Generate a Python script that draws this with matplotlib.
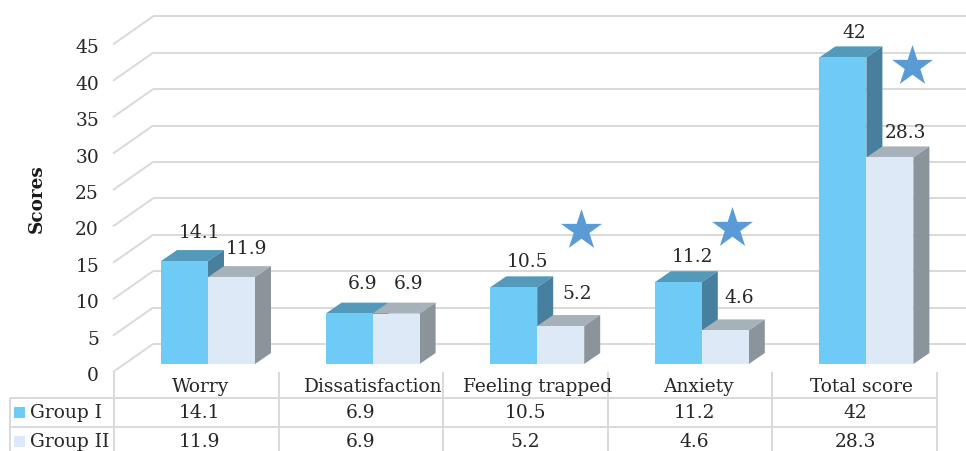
import matplotlib
matplotlib.use("Agg")
import matplotlib.pyplot as plt
from matplotlib.patches import Polygon, Rectangle
from matplotlib.transforms import Affine2D

categories = ["Worry", "Dissatisfaction", "Feeling trapped", "Anxiety", "Total score"]
group1 = [14.1, 6.9, 10.5, 11.2, 42]
group2 = [11.9, 6.9, 5.2, 4.6, 28.3]
series_names = ["Group I", "Group II"]
y_ticks = [0, 5, 10, 15, 20, 25, 30, 35, 40, 45]
# significant categories get a star, position
star_x = [2.837, 3.755, 4.848]
star_y = [18.4, 18.6, 40.8]

W, H = 966, 451
X0, CAT_W = 114.0, 164.6   # left edge of first category, width of one category (px)
Y0, UNIT = 364.0, 7.3      # bar base (px), px per score unit
BAR_W, DX, DY = 47.0, 16.0, 11.0

plt.rcParams["font.family"] = ["DejaVu Serif"]
TXT = "#262626"
GRID = "#d9d9d9"
FS = 13.4

fig = plt.figure(figsize=(W / 100, H / 100), dpi=100)
ax = fig.add_axes([0, 0, 1, 1])
ax.set_xlim(-X0 / CAT_W, (W - X0) / CAT_W)
ax.set_ylim((Y0 - H) / UNIT, Y0 / UNIT)
ax.axis("off")

# pixel coordinates for the chart furniture, y pointing down
px = Affine2D().scale(1, -1).translate(0, H)
dx = DX / CAT_W
dy = DY / UNIT
bw = BAR_W / CAT_W


def gridline(xs, ys, z=1):
    ax.plot(xs, ys, color=GRID, lw=1.4, transform=px, zorder=z, solid_capstyle="butt", clip_on=False)


# walls
for t in y_ticks:
    front = 372 - t * UNIT * 0.9973
    back = 344 - t * UNIT * 0.9973
    gridline([113, 153], [front, back])
    gridline([153, W], [back, back])
    ax.text(99, front + 4, str(t), ha="right", va="center", fontsize=FS, color=TXT, transform=px)

ax.text(37, 199, "Scores", rotation=90, ha="center", va="center", fontsize=13.2,
        fontweight="bold", color="#1a1a1a", transform=px)


def draw_bars(vals, offset, front_c, top_c, side_c, z):
    xs = [i + 47 / CAT_W + offset for i in range(len(vals))]
    ax.bar(xs, vals, width=bw, align="edge", color=front_c, zorder=z + 2)
    for x, v in zip(xs, vals):
        ax.add_patch(Polygon([(x, v), (x + dx, v + dy), (x + bw + dx, v + dy), (x + bw, v)],
                             closed=True, color=top_c, lw=0, zorder=z + 1))
        ax.add_patch(Polygon([(x + bw, 0), (x + bw + dx, dy), (x + bw + dx, v + dy), (x + bw, v)],
                             closed=True, color=side_c, lw=0, zorder=z + 1))


draw_bars(group1, 0, "#6dcbf5", "#5299ba", "#47809e", 3)
draw_bars(group2, bw, "#dee9f7", "#a6b1ba", "#8b949b", 6)

# value labels above the bars, nudged by hand (points)
nudge1 = [(10.5, 20.5), (9.5, 21), (10, 18), (10, 18)]
nudge1.append((8, 17.5))
nudge2 = [(11, 20), (9, 21), (12, 23), (10, 23), (11.5, 17.5)]
for vals, off, nudge in ((group1, 0, nudge1), (group2, bw, nudge2)):
    for i, v in enumerate(vals):
        x = i + 47 / CAT_W + off + bw / 2
        ax.annotate(str(v), (x, v), xytext=nudge[i], textcoords="offset points",
                    ha="center", va="center", fontsize=FS, color=TXT, zorder=12)

ax.scatter(star_x, star_y, marker="*", s=960, color="#5b9bd5", linewidths=0, zorder=13)

# data table under the chart
col_x = [X0 + CAT_W * i for i in range(len(categories) + 1)]
for x in col_x:
    gridline([x, x], [372, H])
gridline([10, 10], [398, H])
for y in (398, 427):
    gridline([10, col_x[-1]], [y, y])

cat_shift = [4, 12, 12, 8, 7]
for i, c in enumerate(categories):
    ax.text(col_x[i] + CAT_W / 2 + cat_shift[i], 387, c, ha="center", va="center",
            fontsize=FS, color=TXT, transform=px)

table_shift = [3, 0, 0, 4, 1]
for name, vals, y, col in ((series_names[0], group1, 413, "#6dcbf5"),
                           (series_names[1], group2, 442, "#dee9f7")):
    ax.add_patch(Rectangle((14, y - 6), 11, 11, color=col, lw=0, transform=px))
    ax.text(30, y, name, ha="left", va="center", fontsize=FS, color=TXT, transform=px)
    for i, v in enumerate(vals):
        ax.text(col_x[i] + CAT_W / 2 + table_shift[i], y, str(v), ha="center", va="center",
                fontsize=FS, color=TXT, transform=px)

fig.savefig("out.png", dpi=100)
